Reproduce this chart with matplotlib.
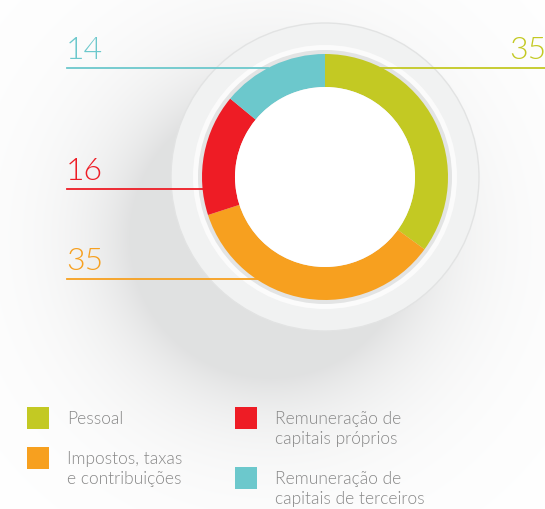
import matplotlib
matplotlib.use('Agg')
import matplotlib.pyplot as plt
from matplotlib.patches import Circle
import numpy as np

# data
labels = ['Pessoal', 'Impostos, taxas\ne contribuições',
          'Remuneração de\ncapitais próprios', 'Remuneração de\ncapitais de terceiros']
values = [35, 35, 16, 14]
colors = ['#c3c923', '#f7a01f', '#ee1c25', '#6cc8cc']

W, H = 545, 509
fig = plt.figure(figsize=(W / 100, H / 100), dpi=100)
ax = fig.add_axes([0, 0, 1, 1])

cx, cy = 325, 332
r_out, r_in = 123, 90
font = ['Lato', 'DejaVu Sans']

# soft shadow to the lower left
yy, xx = np.mgrid[0:H, 0:W]
d = np.hypot(xx - (cx - 55), (H - yy) - (cy - 60)) - 140
shade = np.exp(-np.clip(d, 0, None) / 60.0) * 0.12
img = np.ones((H, W, 3)) - shade[..., None] * np.array([1.0, 0.98, 0.97])
ax.imshow(img, extent=[0, W, 0, H], origin='upper', zorder=0)

# plate
ax.add_patch(Circle((cx, cy), 154, facecolor='#f1f2f2', edgecolor='#e2e3e3', lw=1, zorder=1))
ax.add_patch(Circle((cx, cy), 132, facecolor='#fbfbfb', edgecolor='none', zorder=2))
ax.add_patch(Circle((cx, cy), 127, facecolor='#e3e4e4', edgecolor='none', zorder=3))

wedges, _ = ax.pie(values, colors=colors, startangle=90, counterclock=False, center=(cx, cy),
                   radius=r_out, wedgeprops=dict(width=r_out - r_in, edgecolor='none'), frame=True)
for w in wedges:
    w.set_zorder(4)
ax.add_patch(Circle((cx, cy), r_in, facecolor='white', edgecolor='none', zorder=5))
ax.set_xlim(0, W)
ax.set_ylim(0, H)
ax.set_aspect('equal')
ax.axis('off')

# leader lines and numbers
lw = 1.3
ax.plot([67, 268], [441, 441], color=colors[3], lw=lw, zorder=3.5)
ax.plot([380, W], [441, 441], color=colors[0], lw=lw, zorder=3.5)
ax.plot([67, 206], [320, 320], color=colors[2], lw=lw, zorder=3.5)
ax.plot([67, 262], [230, 230], color=colors[1], lw=lw, zorder=3.5)

num_kw = dict(fontsize=23, family=font, weight=300, va='bottom')
ax.text(66, 444, str(values[3]), color=colors[3], ha='left', **num_kw)
ax.text(546, 444, str(values[0]), color=colors[0], ha='right', **num_kw)
ax.text(66, 323, str(values[2]), color=colors[2], ha='left', **num_kw)
ax.text(66, 233, str(values[1]), color=colors[1], ha='left', **num_kw)

# legend
legend_pos = [(27, 91), (27, 51), (235, 91), (235, 31)]
for (lx, ly), lab, col in zip(legend_pos, labels, colors):
    ax.add_patch(plt.Rectangle((lx, ly - 11), 22, 22, facecolor=col, edgecolor='none', zorder=6))
    ax.text(lx + 40, ly + 7, lab, color='#888888', fontsize=12.5, family=font, weight=300,
            va='top', ha='left', linespacing=1.3, zorder=6)

fig.savefig('out.png', dpi=100)
